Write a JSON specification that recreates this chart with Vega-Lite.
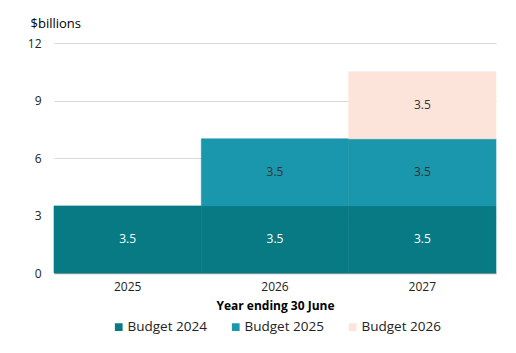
{
  "$schema": "https://vega.github.io/schema/vega-lite/v6.json",
  "width": 442,
  "height": 230,
  "autosize": {"type": "none"},
  "padding": {"left": 54, "top": 43, "right": 20, "bottom": 80},
  "background": "white",
  "config": {
    "font": "Open Sans",
    "view": {"stroke": null},
    "text": {"font": "Open Sans"}
  },
  "data": {
    "values": [
      {"year": "2025", "series": "Budget 2024", "value": 3.5},
      {"year": "2026", "series": "Budget 2024", "value": 3.5},
      {"year": "2026", "series": "Budget 2025", "value": 3.5},
      {"year": "2027", "series": "Budget 2024", "value": 3.5},
      {"year": "2027", "series": "Budget 2025", "value": 3.5},
      {"year": "2027", "series": "Budget 2026", "value": 3.5}
    ]
  },
  "transform": [
    {"stack": "value", "groupby": ["year"], "sort": [{"field": "series", "order": "ascending"}], "as": ["v0", "v1"]},
    {"calculate": "(datum.v0 + datum.v1) / 2", "as": "mid"}
  ],
  "encoding": {
    "x": {
      "field": "year",
      "type": "ordinal",
      "scale": {"paddingInner": 0, "paddingOuter": 0},
      "axis": {
        "title": "Year ending 30 June",
        "titleFontWeight": "bold",
        "titleFontSize": 12,
        "titleColor": "#000",
        "titlePadding": 8,
        "labelAngle": 0,
        "labelFontSize": 12,
        "labelColor": "#222",
        "labelPadding": 8,
        "ticks": false,
        "domainColor": "#9aa3a6",
        "domainWidth": 1.5
      }
    }
  },
  "layer": [
    {
      "mark": {"type": "bar", "strokeWidth": 0.6},
      "encoding": {
        "y": {
          "field": "v1",
          "type": "quantitative",
          "scale": {"domain": [0, 12]},
          "axis": {
            "title": "$billions",
            "titleAngle": 0,
            "titleAlign": "left",
            "titleBaseline": "alphabetic",
            "titleX": -24,
            "titleY": -16,
            "titleFontWeight": "normal",
            "titleFontSize": 13,
            "titleColor": "#000",
            "values": [0, 3, 6, 9, 12],
            "labelFontSize": 12,
            "labelColor": "#222",
            "labelPadding": 13,
            "ticks": false,
            "domain": false,
            "gridColor": "#d9d9d9",
            "gridWidth": 1
          }
        },
        "y2": {"field": "v0"},
        "stroke": {
          "field": "series",
          "type": "nominal",
          "scale": {
            "domain": ["Budget 2024", "Budget 2025", "Budget 2026"],
            "range": ["#077a83", "#1a97ad", "#fde4da"]
          },
          "legend": null
        },
        "color": {
          "field": "series",
          "type": "nominal",
          "scale": {
            "domain": ["Budget 2024", "Budget 2025", "Budget 2026"],
            "range": ["#077a83", "#1a97ad", "#fde4da"]
          },
          "legend": {
            "title": null,
            "orient": "none",
            "direction": "horizontal",
            "legendX": 58,
            "legendY": 277,
            "symbolType": "square",
            "symbolSize": 60,
            "symbolStrokeWidth": 0,
            "labelFontSize": 13.5,
            "labelColor": "#222",
            "labelOffset": 2,
            "columnPadding": 22
          }
        }
      }
    },
    {
      "mark": {"type": "text", "fontSize": 12, "baseline": "middle"},
      "encoding": {
        "y": {"field": "mid", "type": "quantitative"},
        "text": {"field": "value", "type": "quantitative", "format": ".1f"},
        "color": {
          "condition": {"test": "datum.series === 'Budget 2024'", "value": "#ffffff"},
          "value": "#333333"
        }
      }
    }
  ]
}
